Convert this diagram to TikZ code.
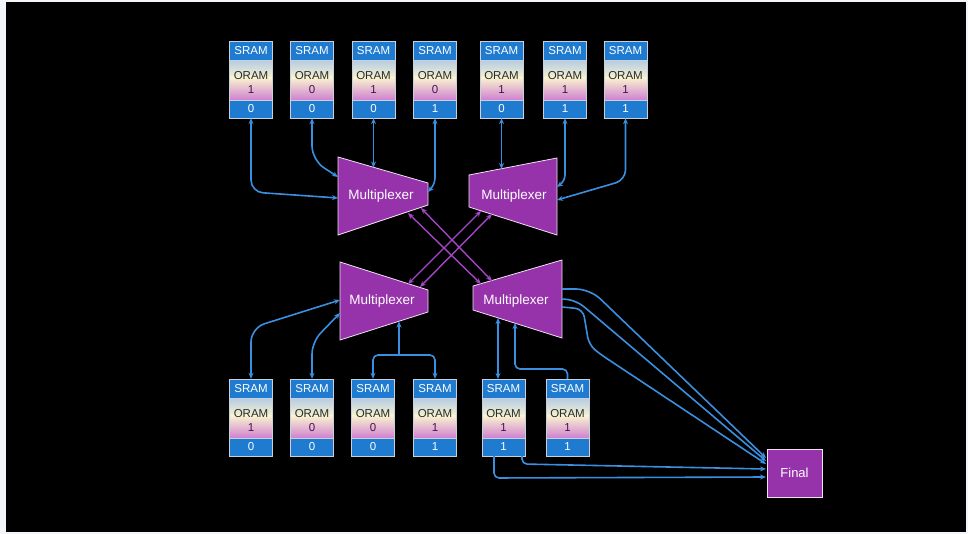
\documentclass[tikz,border=0pt]{standalone}
\usepackage{fontspec}
\setmainfont{Liberation Sans}
\usetikzlibrary{arrows.meta}
\definecolor{bgout}{HTML}{F2F5FA}
\definecolor{sramblue}{HTML}{1E7BD0}
\definecolor{connblue}{HTML}{3A8FE0}
\definecolor{muxpurple}{HTML}{9632AA}
\definecolor{xpurple}{HTML}{A545C5}
\definecolor{oramA}{HTML}{B4CCE4}
\definecolor{oramB}{HTML}{F8F2D0}
\definecolor{oramC}{HTML}{D080D0}
\definecolor{cellline}{HTML}{C8D0DC}
\definecolor{oramtxt}{HTML}{2A2A2A}
\definecolor{numtxt}{HTML}{4A1050}
\tikzset{
  cellbox/.style={minimum width=43pt,minimum height=77pt,inner sep=0pt,draw=none},
  wtxt/.style={text=white,font=\fontsize{11.5}{11.5}\selectfont,inner sep=0pt},
  dtxt/.style={text=oramtxt,font=\fontsize{11.5}{11.5}\selectfont,inner sep=0pt},
  ntxt/.style={text=numtxt,font=\fontsize{11.5}{11.5}\selectfont,inner sep=0pt},
  muxshape/.style={fill=muxpurple,draw=white!85!muxpurple,line width=0.8pt},
  muxtxt/.style={text=white,font=\fontsize{13.5}{13.5}\selectfont,inner sep=0pt},
  conn/.style={draw=connblue,line width=1.6pt},
  bi/.style={conn,{Stealth[length=6pt,width=5pt]}-{Stealth[length=6pt,width=5pt]}},
  uni/.style={conn,-{Stealth[length=6pt,width=5pt]}},
  xline/.style={draw=xpurple,line width=1.4pt,{Stealth[length=6pt,width=5pt]}-{Stealth[length=6pt,width=5pt]}},
  finalbox/.style={fill=muxpurple,draw=white!85!muxpurple,line width=0.8pt,minimum width=55pt,minimum height=48pt,text=white,font=\fontsize{13}{13}\selectfont}
}
% name, center x, top y, middle number, bottom number
\newcommand\sramcell[5]{%
  \begin{scope}[shift={(#2,#3)}]
    \shade[top color=oramA,bottom color=oramB] (-21.5,19) rectangle (21.5,37);
    \shade[top color=oramB,bottom color=oramC] (-21.5,36.8) rectangle (21.5,59);
    \fill[sramblue] (-21.5,0) rectangle (21.5,19);
    \fill[sramblue] (-21.5,59) rectangle (21.5,77);
    \draw[cellline,line width=0.8pt] (-21.5,0) rectangle (21.5,77);
    \draw[cellline,line width=0.6pt] (-21.5,19) -- (21.5,19) (-21.5,59) -- (21.5,59);
    \node[wtxt] at (0,10) {SRAM};
    \node[dtxt] at (0,34.5) {ORAM};
    \node[ntxt] at (0,48.5) {#4};
    \node[wtxt] at (0,68) {#5};
  \end{scope}
  \node[cellbox] (#1) at (#2,#3+38.5) {};
}
\begin{document}
\begin{tikzpicture}[x=1pt,y=-1pt]
\useasboundingbox (0,0) rectangle (968,534);
\fill[bgout] (0,0) rectangle (968,534);
\fill[black] (6,2) rectangle (966,532);

% top SRAM cells
\sramcell{s1}{251}{41}{1}{0}
\sramcell{s2}{312}{41}{0}{0}
\sramcell{s3}{373.5}{41}{1}{0}
\sramcell{s4}{435}{41}{0}{1}
\sramcell{s5}{501.5}{41}{1}{0}
\sramcell{s6}{565}{41}{1}{1}
\sramcell{s7}{625.5}{41}{1}{1}

% bottom SRAM cells
\sramcell{b1}{251}{379}{1}{0}
\sramcell{b2}{312}{379}{0}{0}
\sramcell{b3}{373}{379}{0}{0}
\sramcell{b4}{435}{379}{1}{1}
\sramcell{b5}{503.5}{379}{1}{1}
\sramcell{b6}{567.5}{379}{1}{1}

% multiplexers
\filldraw[muxshape] (338,157) -- (428,183) -- (428,205) -- (338,235) -- cycle;
\node[muxtxt] (mTL) at (381,196) {Multiplexer};
\filldraw[muxshape] (469,175) -- (557,158) -- (557,235) -- (469,207) -- cycle;
\node[muxtxt] (mTR) at (514,196) {Multiplexer};
\filldraw[muxshape] (340,262) -- (428,290) -- (428,312) -- (340,340) -- cycle;
\node[muxtxt] (mBL) at (382,301) {Multiplexer};
\filldraw[muxshape] (473,286) -- (562,260) -- (562,338) -- (473,310) -- cycle;
\node[muxtxt] (mBR) at (516,301) {Multiplexer};

% final
\node[finalbox] (F) at (794.5,473) {Final};

% attachment coordinates
\coordinate (tl1) at (338,198);
\coordinate (tl2) at (338,177);
\coordinate (tl3) at (373.5,167.5);
\coordinate (tl4) at (428,192);
\coordinate (tr5) at (501.5,169);
\coordinate (tr6) at (557,187);
\coordinate (tr7) at (557,200);
\coordinate (bl1) at (340,300);
\coordinate (bl2) at (340,313);
\coordinate (bl3) at (399,321.5);
\coordinate (br5) at (498,318);
\coordinate (br6) at (515,323);
\coordinate (bo1) at (562,289);
\coordinate (bo2) at (562,299);
\coordinate (bo3) at (562,307);
\coordinate (f1) at (766,458);
\coordinate (f2) at (766,461);
\coordinate (f3) at (766,464);
\coordinate (f4) at (766,469);
\coordinate (f5) at (766,477);
\coordinate (b5a) at (494,456);
\coordinate (b5b) at (522,456);
\coordinate (xa1) at (408,213);
\coordinate (xa2) at (481,284);
\coordinate (xb1) at (421,208);
\coordinate (xb2) at (492,281);
\coordinate (xc1) at (481,211);
\coordinate (xc2) at (408,284);
\coordinate (xd1) at (492,214);
\coordinate (xd2) at (420,287);

% top connectors
\draw[bi,rounded corners=12pt] (s1.south) -- (251,192) -- (tl1);
\draw[bi,rounded corners=14pt] (s2.south) -- (312,160) -- (tl2);
\draw[bi] (s3.south) -- (tl3);
\draw[bi,rounded corners=6pt] (s4.south) -- (435,184) -- (tl4);
\draw[bi] (s5.south) -- (tr5);
\draw[bi,rounded corners=6pt] (s6.south) -- (565,181) -- (tr6);
\draw[bi,rounded corners=10pt] (s7.south) -- (625.5,180) -- (tr7);

% crossing connectors
\draw[xline] (xa1) -- (xa2);
\draw[xline] (xb1) -- (xb2);
\draw[xline] (xc1) -- (xc2);
\draw[xline] (xd1) -- (xd2);

% bottom connectors
\draw[bi,rounded corners=14pt] (b1.north) -- (251,328) -- (bl1);
\draw[bi,rounded corners=12pt] (b2.north) -- (312,342) -- (bl2);
\draw[bi,rounded corners=5pt] (b3.north) -- (373,355) -- (435,355) -- (b4.north);
\draw[uni] (399,355) -- (bl3);
\draw[bi] (498,379) -- (br5);
\draw[uni,rounded corners=5pt] (b6.north) -- (567.5,369) -- (515,369) -- (br6);

% to final
\draw[uni,rounded corners=14pt] (bo1) -- (590,289) -- (f1);
\draw[uni,rounded corners=10pt] (bo2) -- (576,300) -- (f2);
\draw[uni,rounded corners=8pt] (bo3) -- (583,309) -- (589,345) -- (600,354) -- (f3);
\draw[uni,rounded corners=5pt] (b5b) -- (522,464) -- (f4);
\draw[uni,rounded corners=5pt] (b5a) -- (494,478) -- (f5);
\end{tikzpicture}
\end{document}
